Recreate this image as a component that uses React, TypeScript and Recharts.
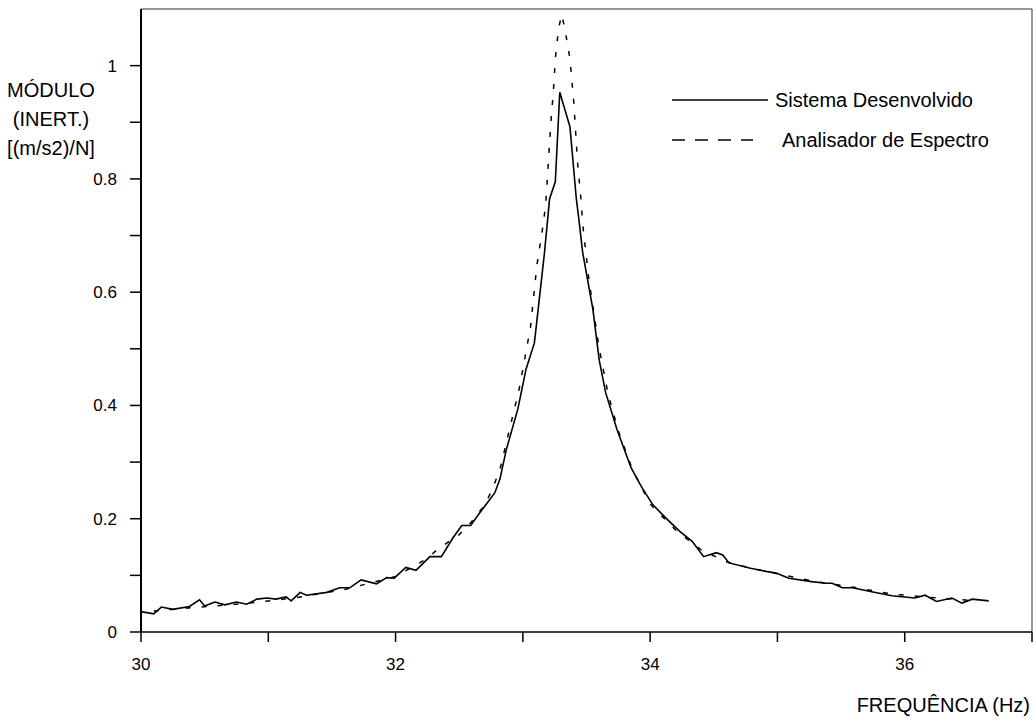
import React from 'react';
import { LineChart, Line, XAxis, YAxis, ReferenceLine, Legend } from 'recharts';

// Sistema Desenvolvido (linha cheia)
const sysFreq = [
  30.0, 30.1, 30.16, 30.25, 30.38, 30.46, 30.5, 30.58, 30.66, 30.75, 30.83, 30.91, 30.99,
  31.06, 31.14, 31.18, 31.25, 31.3, 31.46, 31.56, 31.64, 31.73, 31.85, 31.93, 31.99,
  32.08, 32.16, 32.27, 32.36, 32.45, 32.52, 32.59, 32.66, 32.74, 32.78, 32.82, 32.87, 32.96,
  33.025, 33.09, 33.1, 33.17, 33.195, 33.21, 33.255, 33.29, 33.37, 33.42, 33.44, 33.47,
  33.55, 33.6, 33.65, 33.74, 33.85, 33.93, 34.02, 34.12, 34.23, 34.33, 34.42, 34.52, 34.57,
  34.62, 34.78, 34.91, 34.99, 35.09, 35.27, 35.38, 35.43, 35.51, 35.59, 35.74, 35.9,
  36.08, 36.16, 36.25, 36.37, 36.45, 36.53, 36.66,
];
const sysMod = [
  0.036, 0.032, 0.044, 0.04, 0.045, 0.057, 0.046, 0.053, 0.048, 0.053, 0.049, 0.058, 0.06,
  0.058, 0.062, 0.055, 0.07, 0.065, 0.07, 0.078, 0.078, 0.092, 0.085, 0.096, 0.095,
  0.114, 0.109, 0.133, 0.133, 0.166, 0.188, 0.188, 0.21, 0.234, 0.246, 0.27, 0.322, 0.393,
  0.464, 0.51, 0.529, 0.67, 0.729, 0.765, 0.795, 0.953, 0.892, 0.765, 0.729, 0.67,
  0.57, 0.48, 0.423, 0.357, 0.29, 0.257, 0.225, 0.202, 0.178, 0.16, 0.133, 0.14, 0.136,
  0.122, 0.113, 0.107, 0.104, 0.095, 0.089, 0.086, 0.086, 0.078, 0.078, 0.071, 0.064,
  0.06, 0.065, 0.054, 0.06, 0.051, 0.058, 0.055,
];

// Analisador de Espectro (tracejado)
const anaFreq = [
  30.1, 30.4, 30.8, 31.2, 31.6, 32.0, 32.25, 32.33, 32.5, 32.58, 32.7, 32.76, 32.82, 32.97,
  33.06, 33.11, 33.16, 33.18, 33.2, 33.22, 33.24, 33.255, 33.28, 33.305, 33.33, 33.37, 33.4,
  33.41, 33.43, 33.46, 33.47, 33.52, 33.6, 33.67, 33.75, 33.86, 34.0, 34.2, 34.4, 34.6, 34.8,
  35.0, 35.3, 35.6, 35.9, 36.2, 36.5,
];
const anaMod = [
  0.037, 0.043, 0.05, 0.06, 0.075, 0.098, 0.13, 0.146, 0.172, 0.19, 0.224, 0.252, 0.287, 0.428,
  0.538, 0.647, 0.72, 0.756, 0.828, 0.9, 0.955, 1.012, 1.065, 1.09, 1.065, 1.012, 0.936,
  0.9, 0.828, 0.756, 0.72, 0.62, 0.5, 0.42, 0.355, 0.287, 0.226, 0.18, 0.145, 0.124, 0.112,
  0.103, 0.089, 0.079, 0.067, 0.061, 0.056,
];

const xTicks = [30, 31, 32, 33, 34, 35, 36, 37];
const yTicks = [0, 0.1, 0.2, 0.3, 0.4, 0.5, 0.6, 0.7, 0.8, 0.9, 1.0];
const yLabelLines = ['MÓDULO', '(INERT.)', '[(m/s2)/N]'];

const sysData = sysFreq.map((f, i) => ({ f, v: sysMod[i] }));
const anaData = anaFreq.map((f, i) => ({ f, v: anaMod[i] }));

const FONT = '"Liberation Sans", Arial, Helvetica, sans-serif';

const renderLegend = () => (
  <div style={{ fontFamily: FONT, fontSize: 20, color: '#000' }}>
    <div style={{ height: 40, display: 'flex', alignItems: 'center' }}>
      <svg width={96} height={4} style={{ display: 'block' }}>
        <line x1={0} y1={2} x2={96} y2={2} stroke="#000" strokeWidth={1.5} />
      </svg>
      <span style={{ marginLeft: 7 }}>Sistema Desenvolvido</span>
    </div>
    <div style={{ height: 40, display: 'flex', alignItems: 'center' }}>
      <svg width={81} height={4} style={{ display: 'block' }}>
        <line x1={0} y1={2} x2={81} y2={2} stroke="#000" strokeWidth={1.5} strokeDasharray="13 10" />
      </svg>
      <span style={{ marginLeft: 29 }}>Analisador de Espectro</span>
    </div>
  </div>
);

const App: React.FC = () => {
  return (
    <div style={{ position: 'absolute', left: 0, top: 0, width: 1034, height: 720, background: '#fff' }}>
      <LineChart
        width={1034}
        height={720}
        margin={{ top: 9, right: 2, bottom: 0, left: 0 }}
        style={{ fontFamily: FONT }}
      >
        <XAxis
          type="number"
          dataKey="f"
          domain={[30, 37]}
          ticks={xTicks}
          allowDataOverflow
          height={88}
          stroke="#000"
          strokeWidth={1.5}
          tickSize={10}
          tickMargin={16}
          tickLine={{ stroke: '#000', strokeWidth: 1.5 }}
          tick={{ fill: '#000', fontSize: 17 }}
          tickFormatter={(v: number) => (v % 2 === 0 && v < 37 ? String(v) : '')}
          label={() => (
            <text x={1030} y={712} textAnchor="end" fontSize={20} fill="#000" fontFamily={FONT}>
              FREQUÊNCIA (Hz)
            </text>
          )}
        />
        <YAxis
          type="number"
          dataKey="v"
          domain={[0, 1.1]}
          ticks={yTicks}
          allowDataOverflow
          width={141}
          stroke="#000"
          strokeWidth={2}
          tickSize={11}
          tickMargin={13}
          tickLine={{ stroke: '#000', strokeWidth: 1.5 }}
          tick={{ fill: '#000', fontSize: 17 }}
          tickFormatter={(v: number) => {
            const t = Math.round(v * 10);
            return t % 2 === 0 ? String(t / 10) : '';
          }}
          label={() => (
            <text textAnchor="middle" fontSize={20} fill="#000" fontFamily={FONT}>
              {yLabelLines.map((s, i) => (
                <tspan key={s} x={51} y={97 + i * 29}>
                  {s}
                </tspan>
              ))}
            </text>
          )}
        />
        <ReferenceLine y={1.1} stroke="#333" strokeWidth={1} />
        <ReferenceLine x={37} stroke="#333" strokeWidth={1} />
        <Legend
          layout="vertical"
          align="center"
          verticalAlign="middle"
          content={renderLegend}
          wrapperStyle={{ position: 'absolute', left: 672, top: 80, width: 360, height: 80 }}
        />
        <Line
          data={anaData}
          dataKey="v"
          type="linear"
          stroke="#000"
          strokeWidth={1.5}
          strokeDasharray="5 11"
          dot={false}
          isAnimationActive={false}
        />
        <Line
          data={sysData}
          dataKey="v"
          type="linear"
          stroke="#000"
          strokeWidth={1.6}
          dot={false}
          isAnimationActive={false}
        />
      </LineChart>
    </div>
  );
};

export default App;
